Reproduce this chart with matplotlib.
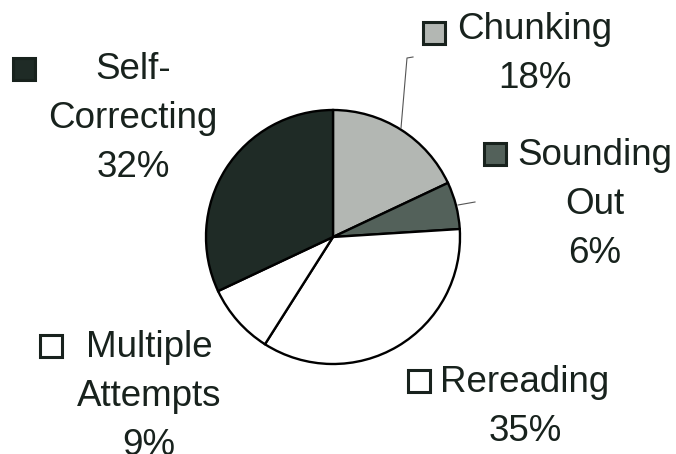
import matplotlib
matplotlib.use("Agg")
import matplotlib.pyplot as plt
from matplotlib.patches import Rectangle

# reading strategy shares, clockwise from 12 o'clock
strategies = ["Chunking", "Sounding Out", "Rereading", "Multiple Attempts", "Self-Correcting"]
shares = [18, 6, 35, 9, 32]
label_lines = [["Chunking"], ["Sounding", "Out"], ["Rereading"],
               ["Multiple", "Attempts"], ["Self-", "Correcting"]]

fills = ["#b3b7b3", "#53615a", "#ffffff", "#ffffff", "#1f2b26"]
ink = "#18221d"

W, H = 676, 454
fig = plt.figure(figsize=(W / 100, H / 100), dpi=100)
ax = fig.add_axes([0, 0, 1, 1])

# pie in pixel-like coords (y measured from the bottom)
cx, cy, r = 333, H - 237, 127
wedges, _ = ax.pie(shares, colors=fills, startangle=90, counterclock=False,
                   center=(cx, cy), radius=r,
                   wedgeprops=dict(edgecolor="black", linewidth=1.7))
ax.set_xlim(0, W)
ax.set_ylim(0, H)
ax.set_aspect("equal")
ax.axis("off")

# text block: centre x, first baseline (from top), legend square left/top
blocks = [
    (535, 39, 423, 22),
    (595, 165, 484, 143),
    (525, 392, 408, 370),
    (149, 357, 40, 335),
    (133, 79, 13, 58),
]
step = 49
font = dict(family="Liberation Sans", size=26.5, color=ink)

for lines, pct, col, (tx, ty, sx, sy) in zip(label_lines, shares, fills, blocks):
    for k, s in enumerate(lines + [f"{pct}%"]):
        ax.text(tx, H - (ty + k * step), s, ha="center", va="baseline", **font)
    ax.add_patch(Rectangle((sx, H - sy - 22), 22, 22, facecolor=col,
                           edgecolor=ink, linewidth=2.2, zorder=3))

# leader lines for the two small slices on the right
ax.plot([401, 407, 413], [H - 128, H - 58, H - 57], color="#555555", lw=0.8)
ax.plot([458, 475], [H - 205, H - 202], color="#555555", lw=0.8)

fig.savefig("out.png", dpi=100, facecolor="white")
